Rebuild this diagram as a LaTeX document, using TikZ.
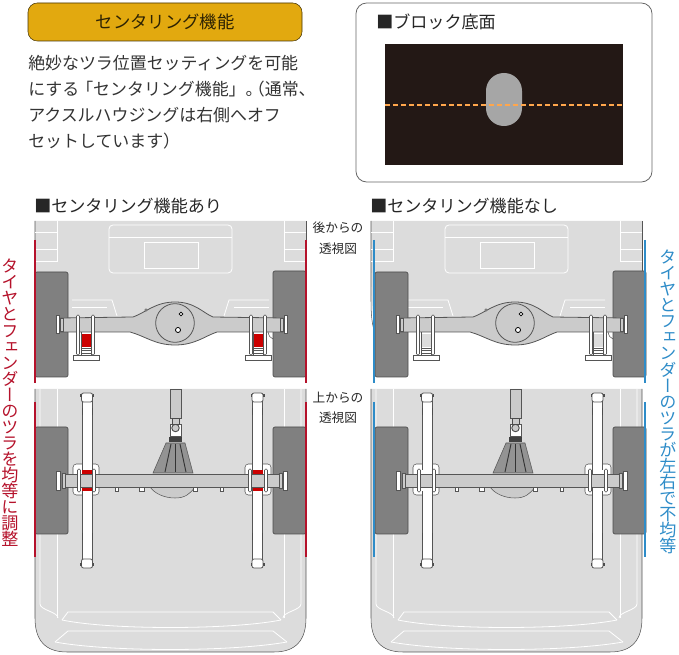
\documentclass[tikz,border=0pt]{standalone}
\usepackage{fontspec}
\usetikzlibrary{positioning,calc}
\setmainfont{Noto Sans CJK JP}
\newfontfamily\cjkvert[RawFeature=+vert]{Noto Sans CJK JP}
\definecolor{bodygray}{HTML}{DCDCDC}
\definecolor{axlegray}{HTML}{CBCBCB}
\definecolor{wheelgray}{HTML}{808080}
\definecolor{edgegray}{HTML}{555555}
\definecolor{blockblack}{HTML}{231815}
\definecolor{titlegold}{HTML}{E2A90F}
\definecolor{fitred}{HTML}{B5122B}
\definecolor{fitblue}{HTML}{2E8CC8}

% truck body seen from behind
\newcommand{\rearbody}{
  \draw[draw=none, fill=bodygray] (35,221) -- (306,221) -- (306,325) -- (39,325) .. controls (36,315) and (35,300) .. (35,221) -- cycle;
  \draw[edgegray, thin] (35,221) -- (35,300) .. controls (35,315) and (36,325) .. (39,333);
  \draw[edgegray, thin] (306,221) -- (306,272);
  \draw[bodyline, rounded corners=3pt] (109,225) rectangle (232,273);
  \draw[bodyline] (109,237) -- (232,237);
  \draw[bodyline] (144,242) rectangle (198,268);
  \foreach \sx/\ex in {35/57,306/284} {
    \draw[bodyline] (\ex,221) -- (\ex,262);
    \draw[bodyline] (\sx,232) -- (\ex,232);
    \draw[bodyline] (\sx,249) -- (\ex,249);
    \draw[bodyline] (\sx,261) -- (\ex,261);
  }
  \draw[bodyline] (72,300) -- (112,300) -- (117,316);
  \draw[bodyline] (72,307) -- (107,307);
  \draw[bodyline] (269,300) -- (229,300) -- (224,316);
  \draw[bodyline] (269,307) -- (234,307);
}
% axle, springs and wheels seen from behind
\newcommand{\rearaxle}[1]{
  \draw[wheel] (35,272) rectangle (68,377);
  \draw[wheel] (273,271) rectangle (306,377);
  \foreach \cx in {86,258} {
    \draw[edgegray, fill=white] (\cx-13,355) rectangle (\cx+13,360);
    \draw[edgegray, fill=white] (\cx-5,331) rectangle (\cx+5,355);
    \fill[#1] (\cx-4.5,334) rectangle (\cx+4.5,347);
    \foreach \ly in {348,350.5,353} \draw[edgegray, very thin] (\cx-5,\ly) -- (\cx+5,\ly);
  }
  \draw[edgegray, fill=axlegray, line width=0.6pt] (60,318) -- (133,317) .. controls (145,313) and (155,302) .. (175,302) .. controls (195,302) and (203,313) .. (213,317) -- (283,318) -- (283,332) -- (217,332) .. controls (205,336) and (195,345) .. (175,345) .. controls (155,345) and (145,336) .. (130,332) -- (60,332) -- cycle;
  \draw[edgegray, fill=axlegray, line width=0.6pt] (175,323) circle (14.5pt);
  \draw[black, fill=white, line width=0.6pt] (181,314) circle (1.4pt);
  \draw[black, fill=white, line width=0.6pt] (178,330) circle (1.9pt);
  \draw[edgegray, fill=white] (146,310) circle (0.9pt);
  \draw[edgegray] (268,332) .. controls (269,336) and (270,338) .. (273,339);
  \foreach \fx in {56,284} \draw[edgegray, fill=white] (\fx,315) rectangle (\fx+3,333);
  \foreach \fx in {60,280} \draw[edgegray, fill=axlegray] (\fx,318) rectangle (\fx+3,331);
  \foreach \bx in {78,93,251,265} \draw[edgegray, fill=white, rounded corners=1pt] (\bx-1.5,315) rectangle (\bx+1.5,355);
}
% truck body seen from above
\newcommand{\topbody}{
  \draw[edgegray, thin, fill=bodygray] (35,389) -- (35,618) .. controls (35,640) and (45,652) .. (67,652) -- (274,652) .. controls (296,652) and (306,640) .. (306,618) -- (306,389);
  \foreach \ix/\ox/\cx in {57/40/58,284/301/283} {
    \draw[bodyline] (\ix,389) -- (\ix,618);
    \draw[bodyline] (\ox,389) -- (\ox,604) .. controls (\ox,610) and (\cx,612) .. (\cx,618);
  }
  \draw[bodyline] (62,620) -- (68,612) -- (273,612) -- (281,620);
  \draw[bodyline] (62,620) .. controls (110,630) and (230,630) .. (281,620);
  \draw[bodyline] (55,642) -- (68,631) -- (273,631) -- (287,642);
  \draw[bodyline] (55,642) .. controls (110,652) and (230,652) .. (287,642);
}
% axle, frame and wheels seen from above
\newcommand{\topaxle}[1]{
  \draw[wheel] (35,427) rectangle (68,534);
  \draw[wheel] (273,427) rectangle (306,534);
  \foreach \rx/\cx in {87/86,257.5/258} {
    \draw[edgegray, fill=white, rounded corners=2.5pt] (\cx-13,464) rectangle (\cx+13,495);
    \draw[edgegray, fill=white, line width=0.6pt] (\rx-5,396) rectangle (\rx+5,564);
    \draw[edgegray, fill=white, rounded corners=1.5pt, line width=0.6pt] (\rx-5.5,393) rectangle (\rx+5.5,402);
    \draw[edgegray, fill=white, rounded corners=1.5pt, line width=0.6pt] (\rx-5.5,559) rectangle (\rx+5.5,568);
    \foreach \sy in {394.5,563} {
      \fill[black!70] (\rx-7,\sy) rectangle (\rx-5.5,\sy+3);
      \fill[black!70] (\rx+5.5,\sy) rectangle (\rx+7,\sy+3);
    }
    \foreach \sy in {408,533} {
      \draw[black!70, line width=0.7pt] (\rx-5,\sy) -- (\rx-5,\sy+7);
      \draw[black!70, line width=0.7pt] (\rx+5,\sy) -- (\rx+5,\sy+7);
    }
    \fill[#1] (\rx-5,470) rectangle (\rx+5,474);
    \fill[#1] (\rx-5,487) rectangle (\rx+5,491);
  }
  \draw[edgegray, fill=axlegray] (170,389) rectangle (181,418);
  \draw[edgegray, fill=white] (170,424) rectangle (181,436);
  \draw[black!70, fill=axlegray, line width=0.7pt] (175.5,428) circle (2.8pt);
  \draw[black!70, fill=axlegray] (172,418) rectangle (179,424);
  \fill[black!75] (169,437) rectangle (182,442);
  \draw[edgegray, fill=wheelgray!85] (166,443) -- (185,443) -- (193,473) -- (153,473) -- cycle;
  \foreach \tx/\bx in {171/165,175.5/175.5,180/186} \draw[black!80, line width=0.7pt] (\tx,444) -- (\bx,472);
  \draw[edgegray, fill=axlegray] (150,487) .. controls (155,494) and (165,498) .. (175,498) .. controls (185,498) and (190,494) .. (195,487) -- cycle;
  \foreach \nx/\nw in {115/3,139/5,193/4,220/3} \draw[edgegray, fill=white] (\nx,487) rectangle (\nx+\nw,491);
  \draw[edgegray, fill=axlegray, line width=0.6pt] (62,474) -- (283,474) -- (283,487) -- (62,487) -- cycle;
  \foreach \fx in {56,283} \draw[edgegray, fill=white] (\fx,471) rectangle (\fx+4,490);
  \foreach \fx in {62,279} \draw[edgegray, fill=axlegray] (\fx,473) rectangle (\fx+3,488);
  \foreach \bx in {79,94,250,266} \draw[edgegray, fill=white, rounded corners=1pt] (\bx-1.5,469) rectangle (\bx+1.5,492);
}

\begin{document}
\begin{tikzpicture}[x=0.75pt, y=-0.75pt, node distance=6pt,
    bodyline/.style={white, line width=0.6pt},
    wheel/.style={draw=black!70, fill=wheelgray, line width=0.5pt, rounded corners=1.5pt},
    sectionlabel/.style={anchor=west, inner sep=0pt, font=\fontsize{12.8}{15}\selectfont, text=black!85},
    viewlabel/.style={inner sep=0pt, font=\fontsize{9.5}{12}\selectfont, text=black!85},
    sidelabel/.style={inner sep=0pt, align=center, font=\cjkvert\fontsize{12.8}{12.05}\selectfont}]
  \useasboundingbox (0,0) rectangle (679,655);

  % top left
  \node[draw=black!70!titlegold, fill=titlegold, rounded corners=7pt, minimum width=205.5pt, minimum height=28.5pt, inner sep=0pt, font=\fontsize{13}{15}\selectfont, text=black!80!titlegold] (title) at (165,22) {センタリング機能};
  \node[anchor=north west, inner sep=0pt, align=left, text=black!80, font=\fontsize{12.7}{19.6}\selectfont] (intro) at (28,55) {絶妙なツラ位置セッティングを可能\\にする\kern-2.2pt「センタリング機能」。\kern-11pt（通常、\\アクスルハウジングは右側へオフ\\セットしています）};

  % top right
  \draw[black!60, fill=white, rounded corners=8pt, line width=0.6pt] (356,3) rectangle (652,182);
  \node[sectionlabel] (blocktitle) at (376,22) {■ブロック底面};
  \fill[blockblack] (385,44) rectangle (623,165);
  \fill[black!35, rounded corners=13.4pt] (486,73) rectangle (522,126);
  \draw[orange!70!white, dashed, line width=0.9pt, dash pattern=on 4pt off 2pt] (385,105) -- (623,105);

  % headings
  \node[sectionlabel] (withtitle) at (34,206) {■センタリング機能あり};
  \node[sectionlabel] (withouttitle) at (370,206) {■センタリング機能なし};

  % with centering
  \rearbody
  \rearaxle{red!80!black}
  \topbody
  \topaxle{red!80!black}
  \draw[fitred, line width=0.9pt] (35,240) -- (35,383);
  \draw[fitred, line width=0.9pt] (306,240) -- (306,383);
  \draw[fitred, line width=0.9pt] (35,402) -- (35,557);
  \draw[fitred, line width=0.9pt] (306,402) -- (306,557);

  % without centering
  \begin{scope}[shift={(336,0)}]
    \rearbody
    \topbody
  \end{scope}
  \begin{scope}[shift={(340,0)}]
    \rearaxle{bodygray}
    \topaxle{white}
  \end{scope}
  \draw[fitblue, line width=0.9pt] (374,240) -- (374,383);
  \draw[fitblue, line width=0.9pt] (645,240) -- (645,383);
  \draw[fitblue, line width=0.9pt] (374,402) -- (374,557);
  \draw[fitblue, line width=0.9pt] (645,402) -- (645,557);

  % middle labels
  \node[viewlabel] (rearone) at (338,228) {後からの};
  \node[viewlabel, below=of rearone] (reartwo) {透視図};
  \node[viewlabel] (topone) at (338,398) {上からの};
  \node[viewlabel, below=of topone] (toptwo) {透視図};

  % side labels
  \node[sidelabel, text=fitred] (evenlabel) at (10,403) {タ\\イ\\ヤ\\と\\フ\\ェ\\ン\\ダ\\ー\\の\\ツ\\ラ\\を\\均\\等\\に\\調\\整};
  \node[sidelabel, text=fitblue] (unevenlabel) at (668,402) {タ\\イ\\ヤ\\と\\フ\\ェ\\ン\\ダ\\ー\\の\\ツ\\ラ\\が\\左\\右\\で\\不\\均\\等};
\end{tikzpicture}
\end{document}
